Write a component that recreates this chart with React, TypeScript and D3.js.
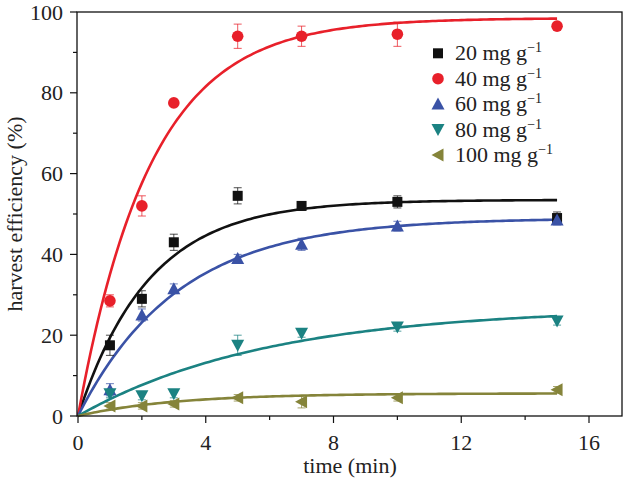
import React from "react";
import * as d3 from "d3";

const times = [1, 2, 3, 5, 7, 10, 15];
const seriesNames = ["20", "40", "60", "80", "100"];
const colors = ["#111111", "#e8202a", "#3a52a6", "#1b8282", "#85843a"];
const shapes = ["square", "circle", "triUp", "triDown", "triLeft"];
const values20 = [17.5, 29, 43, 54.5, 52, 53, 49];
const values40 = [28.5, 52, 77.5, 94, 94, 94.5, 96.5];
const values60 = [6.5, 25, 31.5, 39, 42.5, 47, 48.5];
const values80 = [5.5, 5, 5.5, 17.5, 20.5, 22, 23.5];
const values100 = [2.5, 2.5, 3, 4.5, 3.5, 4.5, 6.5];
const errors20 = [2.5, 2, 2, 2, 1, 1.5, 1.5];
const errors40 = [1.5, 2.5, 0, 3, 2.5, 3, 0];
const errors60 = [1.5, 1.5, 1.2, 1, 1.5, 1.2, 1.2];
const errors80 = [1, 1, 1, 2.5, 1, 1, 1];
const errors100 = [0.8, 0.8, 0.8, 0.8, 1.5, 0.8, 0.8];
// fitted model y = A (1 - exp(-k t))
const fitA = [53.5, 98.5, 49, 26.9, 5.6];
const fitK = [0.45, 0.44, 0.32, 0.168, 0.33];
const xTicks = [0, 4, 8, 12, 16];
const xMinor = [2, 6, 10, 14];
const yTicks = [0, 20, 40, 60, 80, 100];
const yMinor = [10, 30, 50, 70, 90];

const allValues = [values20, values40, values60, values80, values100];
const allErrors = [errors20, errors40, errors60, errors80, errors100];

const FONT = { fontFamily: "\"Liberation Serif\", \"Times New Roman\", serif" };

function Marker({ shape, x, y, color }: { shape: string; x: number; y: number; color: string }) {
  const s = 5.5;
  if (shape === "square") return <rect x={x - 5} y={y - 5} width={10} height={10} fill={color} />;
  if (shape === "circle") return <circle cx={x} cy={y} r={5.8} fill={color} />;
  const h = 6.5;
  let pts = "";
  if (shape === "triUp") pts = `${x},${y - h} ${x + h},${y + s} ${x - h},${y + s}`;
  if (shape === "triDown") pts = `${x},${y + h} ${x + h},${y - s} ${x - h},${y - s}`;
  if (shape === "triLeft") pts = `${x - h},${y} ${x + s},${y - h} ${x + s},${y + h}`;
  return <polygon points={pts} fill={color} />;
}

export default function App() {
  const W = 624, H = 479;
  const left = 77, right = 622, top = 12, bottom = 416;
  const x = d3.scaleLinear().domain([0, 16]).range([78, 589]);
  const y = d3.scaleLinear().domain([0, 100]).range([bottom, top]);
  const fs = 22;

  const fitTimes = d3.range(0, 15.0001, 0.1);
  const line = d3.line<number[]>().x(d => x(d[0])).y(d => y(d[1])).curve(d3.curveLinear);

  return (
    <svg width={W} height={H} style={{ position: "absolute", left: 0, top: 0, background: "#fff" }}>
      <rect x={0} y={0} width={W} height={H} fill="#fff" />
      {fitA.map((A, i) => (
        <path key={"f" + i} d={line(fitTimes.map(t => [t, A * (1 - Math.exp(-fitK[i] * t))]))!}
          fill="none" stroke={colors[i]} strokeWidth={2.6} />
      ))}
      {allValues.map((vals, i) => vals.map((v, j) => {
        const e = allErrors[i][j];
        if (!e) return null;
        const cx = x(times[j]);
        return (
          <g key={`e${i}-${j}`} stroke={colors[i]} strokeOpacity={0.75} strokeWidth={1}>
            <line x1={cx} x2={cx} y1={y(v - e)} y2={y(v + e)} />
            <line x1={cx - 4} x2={cx + 4} y1={y(v - e)} y2={y(v - e)} />
            <line x1={cx - 4} x2={cx + 4} y1={y(v + e)} y2={y(v + e)} />
          </g>
        );
      }))}
      {allValues.map((vals, i) => vals.map((v, j) => (
        <Marker key={`m${i}-${j}`} shape={shapes[i]} x={x(times[j])} y={y(v)} color={colors[i]} />
      )))}
      <rect x={left} y={top} width={right - left} height={bottom - top} fill="none" stroke="#111" strokeWidth={1.3} />
      {xTicks.map(t => (
        <g key={"xt" + t}>
          <line x1={x(t)} x2={x(t)} y1={bottom} y2={bottom + 7} stroke="#111" strokeWidth={1.2} />
          <text x={x(t)} y={bottom + 34} textAnchor="middle" fontSize={fs} fill="#222" style={FONT}>{t}</text>
        </g>
      ))}
      {xMinor.map(t => (
        <line key={"xm" + t} x1={x(t)} x2={x(t)} y1={bottom} y2={bottom + 4} stroke="#111" strokeWidth={1.2} />
      ))}
      {yTicks.map(t => (
        <g key={"yt" + t}>
          <line x1={left - 7} x2={left} y1={y(t)} y2={y(t)} stroke="#111" strokeWidth={1.2} />
          <text x={63} y={y(t) + 7.5} textAnchor="end" fontSize={fs} fill="#222" style={FONT}>{t}</text>
        </g>
      ))}
      {yMinor.map(t => (
        <line key={"ym" + t} x1={left - 4} x2={left} y1={y(t)} y2={y(t)} stroke="#111" strokeWidth={1.2} />
      ))}
      <text x={350} y={473} textAnchor="middle" fontSize={fs} fill="#222" style={FONT}>time (min)</text>
      <text transform={`translate(22, ${(top + bottom) / 2}) rotate(-90)`} textAnchor="middle" fontSize={fs} fill="#222" style={FONT}>harvest efficiency (%)</text>
      {seriesNames.map((n, i) => {
        const ly = 53.3 + i * 25.4;
        return (
          <g key={"lg" + i}>
            <Marker shape={shapes[i]} x={438} y={ly} color={colors[i]} />
            <text x={455} y={ly + 7} fontSize={fs} fill="#222" style={FONT}>
              {n} mg g<tspan dy={-8} fontSize={14}>−1</tspan>
            </text>
          </g>
        );
      })}
    </svg>
  );
}
